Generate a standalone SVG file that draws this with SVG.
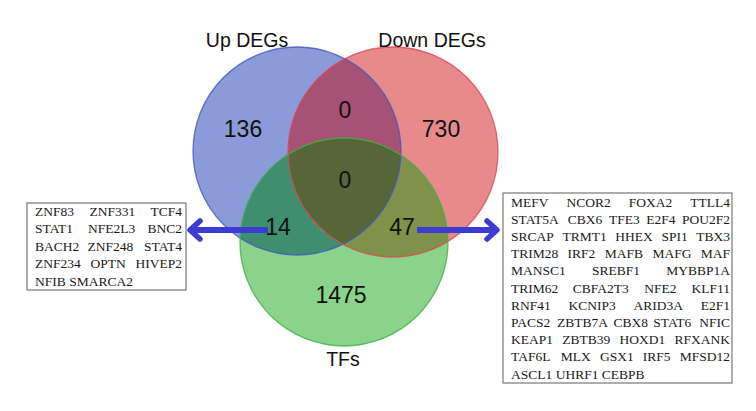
<svg xmlns="http://www.w3.org/2000/svg" width="756" height="411" viewBox="0 0 756 411">
<style>
.lbl{font-family:"Liberation Sans",Arial,sans-serif;font-size:19.5px;fill:#111;text-anchor:middle}
.num{font-family:"Liberation Sans",Arial,sans-serif;font-size:23px;fill:#111;text-anchor:middle}
.box{fill:#fff;stroke:#777;stroke-width:1.2}
.g{font-family:"Liberation Serif","Times New Roman",serif;font-size:13.5px;fill:#1a1a1a}
.e{text-anchor:end}
.edge{stroke:#3c3cd2;stroke-width:6;fill:none}
.ring{fill:none;stroke-width:1.3;stroke-opacity:0.8}
</style>
<defs>
<clipPath id="cpBlue"><circle cx="297" cy="151" r="104"/></clipPath>
<clipPath id="cpRed"><circle cx="393" cy="152" r="105"/></clipPath>
<marker id="chev" markerUnits="userSpaceOnUse" orient="auto" refX="0" refY="0" markerWidth="20" markerHeight="24" overflow="visible">
<path d="M-10,-9 L0,0 L-10,9" fill="none" stroke="#3c3cd2" stroke-width="5.5" stroke-linecap="round" stroke-linejoin="round"/>
</marker>
</defs>
<rect width="756" height="411" fill="#fff"/>

<g id="venn">
<g id="set-up"><circle cx="297" cy="151" r="104" fill="#8b9ad8"/></g>
<g id="set-down"><circle cx="393" cy="152" r="105" fill="#e88a8c"/></g>
<g id="set-tfs"><circle cx="344" cy="242" r="104" fill="#8bd38b"/></g>
<circle cx="393" cy="152" r="105" fill="#a55274" clip-path="url(#cpBlue)"/>
<circle cx="344" cy="242" r="104" fill="#3f8e6f" clip-path="url(#cpBlue)"/>
<circle cx="344" cy="242" r="104" fill="#80924a" clip-path="url(#cpRed)"/>
<g clip-path="url(#cpBlue)"><circle cx="344" cy="242" r="104" fill="#566638" clip-path="url(#cpRed)"/></g>
<circle class="ring" cx="297" cy="151" r="104" stroke="#4458c0"/>
<circle class="ring" cx="393" cy="152" r="105" stroke="#d84a55"/>
<circle class="ring" cx="344" cy="242" r="104" stroke="#46ad46"/>
<text class="lbl" x="247" y="47">Up DEGs</text>
<text class="lbl" x="432" y="47">Down DEGs</text>
<text class="lbl" x="343" y="366">TFs</text>
<text class="num" x="243" y="137">136</text>
<text class="num" x="345" y="118">0</text>
<text class="num" x="441" y="137">730</text>
<text class="num" x="345" y="188">0</text>
<text class="num" x="278" y="235">14</text>
<text class="num" x="402" y="235">47</text>
<text class="num" x="341" y="303">1475</text>
</g>

<g id="connectors">
<line class="edge" x1="268" y1="230" x2="190" y2="230" marker-end="url(#chev)"/>
<line class="edge" x1="417" y1="230" x2="497" y2="230" marker-end="url(#chev)"/>
</g>

<g id="box-left">
<rect class="box" x="27" y="203" width="159" height="87"/>
<text class="g" x="35" y="215.5">ZNF83</text><text class="g" x="89.4" y="215.5">ZNF331</text><text class="g e" x="182" y="215.5">TCF4</text>
<text class="g" x="35" y="233">STAT1</text><text class="g" x="87.9" y="233">NFE2L3</text><text class="g e" x="182" y="233">BNC2</text>
<text class="g" x="35" y="250.5">BACH2</text><text class="g" x="87.5" y="250.5">ZNF248</text><text class="g e" x="182" y="250.5">STAT4</text>
<text class="g" x="35" y="268">ZNF234</text><text class="g" x="90.5" y="268">OPTN</text><text class="g e" x="182" y="268">HIVEP2</text>
<text class="g" x="35" y="285.5">NFIB SMARCA2</text>
</g>

<g id="box-right">
<rect class="box" x="503" y="193" width="229" height="190"/>
<text class="g" x="511" y="206.5">MEFV</text><text class="g" x="566.5" y="206.5">NCOR2</text><text class="g" x="628.8" y="206.5">FOXA2</text><text class="g e" x="730" y="206.5">TTLL4</text>
<text class="g" x="511" y="223.7">STAT5A</text><text class="g" x="567.8" y="223.7">CBX6</text><text class="g" x="608.9" y="223.7">TFE3</text><text class="g" x="646.2" y="223.7">E2F4</text><text class="g e" x="730" y="223.7">POU2F2</text>
<text class="g" x="511" y="240.9">SRCAP</text><text class="g" x="562.4" y="240.9">TRMT1</text><text class="g" x="615.3" y="240.9">HHEX</text><text class="g" x="661.4" y="240.9">SPI1</text><text class="g e" x="730" y="240.9">TBX3</text>
<text class="g" x="511" y="258.1">TRIM28</text><text class="g" x="567.6" y="258.1">IRF2</text><text class="g" x="604.7" y="258.1">MAFB</text><text class="g" x="652.4" y="258.1">MAFG</text><text class="g e" x="730" y="258.1">MAF</text>
<text class="g" x="511" y="275.3">MANSC1</text><text class="g" x="592" y="275.3">SREBF1</text><text class="g e" x="730" y="275.3">MYBBP1A</text>
<text class="g" x="511" y="292.5">TRIM62</text><text class="g" x="572.8" y="292.5">CBFA2T3</text><text class="g" x="644.3" y="292.5">NFE2</text><text class="g e" x="730" y="292.5">KLF11</text>
<text class="g" x="511" y="309.7">RNF41</text><text class="g" x="568.5" y="309.7">KCNIP3</text><text class="g" x="633.5" y="309.7">ARID3A</text><text class="g e" x="730" y="309.7">E2F1</text>
<text class="g" x="511" y="326.9">PACS2</text><text class="g" x="556.9" y="326.9">ZBTB7A</text><text class="g" x="613.4" y="326.9">CBX8</text><text class="g" x="653.3" y="326.9">STAT6</text><text class="g e" x="730" y="326.9">NFIC</text>
<text class="g" x="511" y="344.1">KEAP1</text><text class="g" x="562.3" y="344.1">ZBTB39</text><text class="g" x="619.5" y="344.1">HOXD1</text><text class="g e" x="730" y="344.1">RFXANK</text>
<text class="g" x="511" y="361.3">TAF6L</text><text class="g" x="560.7" y="361.3">MLX</text><text class="g" x="599.9" y="361.3">GSX1</text><text class="g" x="642.8" y="361.3">IRF5</text><text class="g e" x="730" y="361.3">MFSD12</text>
<text class="g" x="511" y="378.5">ASCL1 UHRF1 CEBPB</text>
</g>
</svg>
